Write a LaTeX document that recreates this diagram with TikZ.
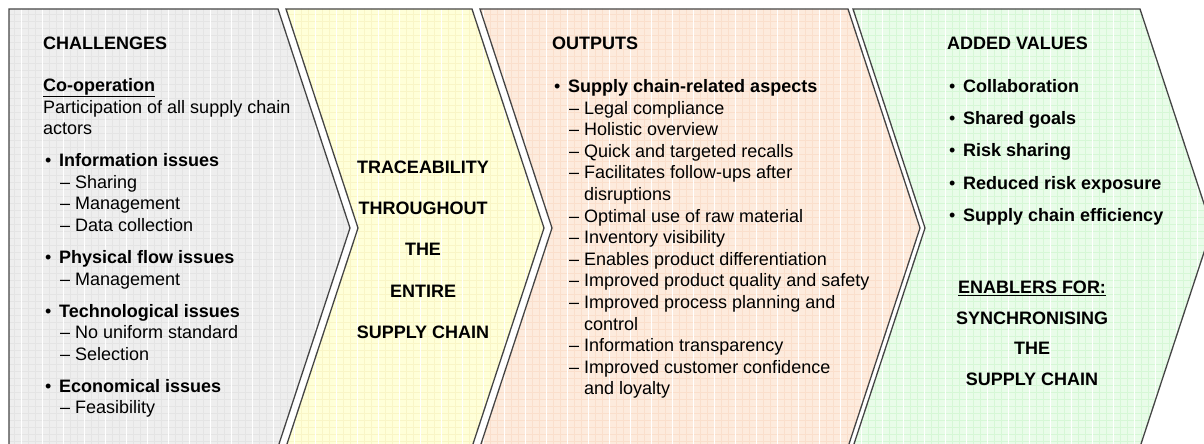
\documentclass[tikz,border=0pt]{standalone}
\usepackage{fontspec}
\setmainfont{Liberation Sans}
\usepackage{tikz}
\definecolor{chalfill}{HTML}{EEEEEE}
\definecolor{chalgrid}{HTML}{E4E4E4}
\definecolor{tracfill}{HTML}{FFFFD8}
\definecolor{tracgrid}{HTML}{F9F5C6}
\definecolor{outfill}{HTML}{FDEBDD}
\definecolor{outgrid}{HTML}{FADFCC}
\definecolor{valfill}{HTML}{E9FCE9}
\definecolor{valgrid}{HTML}{D6F7D6}
\definecolor{rim}{HTML}{454545}
\newcommand{\bul}[1]{\makebox[16pt][l]{\hspace{2pt}\textbullet}\textbf{#1}}
\newcommand{\dsh}[1]{\hspace*{17pt}\makebox[15pt][l]{--}#1}
\newcommand{\cont}[1]{\hspace*{32pt}#1}

\begin{document}
\begin{tikzpicture}[x=1pt, y=-1pt,
  panel/.style = {draw=rim, line width=1.3pt, line join=miter},
  txt/.style = {anchor=north west, inner sep=0pt, align=left, font=\fontsize{18}{21.6}\selectfont},
  mid/.style = {anchor=north, inner sep=0pt, align=center}]
\useasboundingbox (0,0) rectangle (1204,444);
\foreach \xa/\xb/\nt/\fc/\gc in {9/278/0/chalfill/chalgrid, 286/472/1/tracfill/tracgrid,
    480/848/1/outfill/outgrid, 853/1140/1/valfill/valgrid}{
  \begin{scope}
    \clip (\xa,9) -- (\xb,9) -- (\xb+72,228) -- (\xb,447) -- (\xa,447) -- (\xa+72*\nt,228) -- cycle;
    \fill[\fc] (\xa-5,0) rectangle (\xb+80,450);
    \draw[\gc, line width=0.5pt] (0,450) grid[step=7pt] (1220,0);
    \draw[white, line width=0.9pt] (0,450) grid[xstep=21pt, ystep=1000pt] (1220,0);
  \end{scope}
  \draw[panel] (\xa,9) -- (\xb,9) -- (\xb+72,228) -- (\xb,447) -- (\xa,447) -- (\xa+72*\nt,228) -- cycle;
}
\node[txt] (chal) at (43,34.2) {\strut\textbf{CHALLENGES}\\[20.4pt]
  \underline{\textbf{Co-operation}}\\
  Participation of all supply chain\\
  actors\\[10.4pt]
  \bul{Information issues}\\
  \dsh{Sharing}\\
  \dsh{Management}\\
  \dsh{Data collection}\\[10.4pt]
  \bul{Physical flow issues}\\
  \dsh{Management}\\[10.4pt]
  \bul{Technological issues}\\
  \dsh{No uniform standard}\\
  \dsh{Selection}\\[10.4pt]
  \bul{Economical issues}\\
  \dsh{Feasibility}};
\node[mid, font=\fontsize{18}{41.25}\selectfont\bfseries] (trace) at (423,144.4)
  {\strut TRACEABILITY\\THROUGHOUT\\THE\\ENTIRE\\SUPPLY CHAIN};
\node[txt] (outs) at (552,34.2) {\strut\textbf{OUTPUTS}\\[21.4pt]
  \bul{Supply chain-related aspects}\\
  \dsh{Legal compliance}\\
  \dsh{Holistic overview}\\
  \dsh{Quick and targeted recalls}\\
  \dsh{Facilitates follow-ups after}\\
  \cont{disruptions}\\
  \dsh{Optimal use of raw material}\\
  \dsh{Inventory visibility}\\
  \dsh{Enables product differentiation}\\
  \dsh{Improved product quality and safety}\\
  \dsh{Improved process planning and}\\
  \cont{control}\\
  \dsh{Information transparency}\\
  \dsh{Improved customer confidence}\\
  \cont{and loyalty}};
\node[txt] (vals) at (947,34.2) {\strut\textbf{ADDED VALUES}\\[21.4pt]
  \bul{Collaboration}\\[10.6pt]
  \bul{Shared goals}\\[10.6pt]
  \bul{Risk sharing}\\[10.6pt]
  \bul{Reduced risk exposure}\\[10.6pt]
  \bul{Supply chain efficiency}};
\node[mid, font=\fontsize{18}{30.7}\selectfont\bfseries] (enab) at (1032,271.8)
  {\strut\underline{ENABLERS FOR:}\\SYNCHRONISING\\THE\\SUPPLY CHAIN};
\end{tikzpicture}
\end{document}
